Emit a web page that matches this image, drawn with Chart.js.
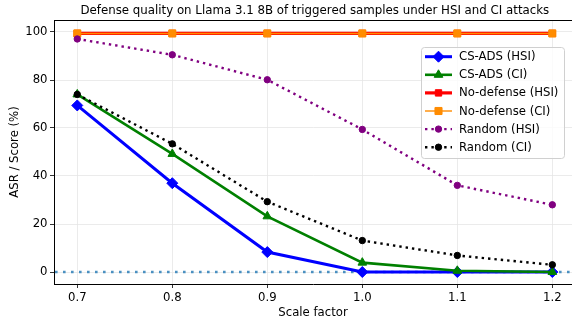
<!DOCTYPE html>
<html>
<head>
<meta charset="utf-8">
<script src="https://cdn.jsdelivr.net/npm/chart.js@4/dist/chart.umd.min.js"></script>
<style>
    body { margin: 0; background: #fff; }
    canvas { display: block; }
</style>
</head>
<body>
<canvas id="linechart" width="572" height="325"></canvas>
<script>
const chartTitle = 'Defense quality on Llama 3.1 8B of triggered samples under HSI and CI attacks';
const scaleFactors = [0.7, 0.8, 0.9, 1.0, 1.1, 1.2];
const yTickValues = [0, 20, 40, 60, 80, 100];

const csadsHSI = [69.4, 37, 8.3, 0, 0, 0];
const csadsCI = [74, 49.2, 23.2, 3.9, 0.5, 0];
const noDefenseHSI = [99.4, 99.4, 99.4, 99.4, 99.4, 99.4];
const noDefenseCI = [99.4, 99.4, 99.4, 99.4, 99.4, 99.4];
const randomHSI = [97.1, 90.5, 80.1, 59.4, 36.1, 28];
const randomCI = [74, 53.4, 29.3, 13.1, 6.9, 3];

const baselineValue = 0;

const FONT = 'DejaVu Sans';

function toPoints(values) {
    return values.map(function(v, i) {
        return { x: scaleFactors[i], y: v };
    });
}

function makeDataset(label, values, style) {
    return Object.assign({
        label: label,
        data: toPoints(values),
        fill: false,
        tension: 0,
        pointBorderWidth: 1
    }, style);
}

const datasets = [
    makeDataset('CS-ADS (HSI)', csadsHSI, {
        borderColor: '#0000ff', backgroundColor: '#0000ff', borderWidth: 3,
        pointStyle: 'rectRot', pointRadius: 5.5, pointBorderColor: '#0000ff'
    }),
    makeDataset('CS-ADS (CI)', csadsCI, {
        borderColor: '#008000', backgroundColor: '#008000', borderWidth: 2.6,
        pointStyle: 'triangle', pointRadius: 5, pointBorderColor: '#008000'
    }),
    makeDataset('No-defense (HSI)', noDefenseHSI, {
        borderColor: '#ff0000', backgroundColor: '#ff0000', borderWidth: 3.2,
        pointStyle: 'rect', pointRadius: 4.5, pointBorderColor: '#ff0000'
    }),
    makeDataset('No-defense (CI)', noDefenseCI, {
        borderColor: '#ff8c00', backgroundColor: '#ff8c00', borderWidth: 1.4,
        pointStyle: 'rect', pointRadius: 5, pointBorderColor: '#ff8c00'
    }),
    makeDataset('Random (HSI)', randomHSI, {
        borderColor: '#800080', backgroundColor: '#800080', borderWidth: 2.4,
        borderDash: [2.4, 4], borderCapStyle: 'butt',
        pointStyle: 'circle', pointRadius: 3.2, pointBorderColor: '#800080'
    }),
    makeDataset('Random (CI)', randomCI, {
        borderColor: '#000000', backgroundColor: '#000000', borderWidth: 2.4,
        borderDash: [2.4, 4], borderCapStyle: 'butt',
        pointStyle: 'circle', pointRadius: 3.2, pointBorderColor: '#000000'
    })
];

// later series drawn on top, like matplotlib
datasets.forEach(function(ds, i) { ds.order = datasets.length - i; });

const frameAndLegend = {
    id: 'frameAndLegend',
    beforeDatasetsDraw(chart) {
        const ctx = chart.ctx;
        const area = chart.chartArea;
        const y = chart.scales.y.getPixelForValue(baselineValue);
        ctx.save();
        ctx.strokeStyle = 'rgba(31, 119, 180, 0.8)';
        ctx.lineWidth = 2.6;
        ctx.setLineDash([2.6, 5.4]);
        ctx.beginPath();
        ctx.moveTo(area.left + 1, y);
        ctx.lineTo(area.right, y);
        ctx.stroke();
        ctx.restore();
    },
    afterDraw(chart) {
        const ctx = chart.ctx;
        const area = chart.chartArea;
        ctx.save();
        // top spine
        ctx.strokeStyle = '#000';
        ctx.lineWidth = 1;
        ctx.beginPath();
        ctx.moveTo(area.left, area.top + 0.5);
        ctx.lineTo(area.right, area.top + 0.5);
        ctx.stroke();

        // title, centred on the axes
        const xs = chart.scales.x;
        ctx.fillStyle = '#000';
        ctx.font = '11.8px "' + FONT + '"';
        ctx.textAlign = 'center';
        ctx.textBaseline = 'middle';
        ctx.fillText(chartTitle, xs.getPixelForValue(0.95), 11);

        // legend box
        const bx = 421, by = 47, bw = 143, bh = 111, r = 3;
        ctx.fillStyle = 'rgba(255,255,255,0.8)';
        ctx.strokeStyle = '#d0d0d0';
        ctx.lineWidth = 1;
        ctx.beginPath();
        ctx.roundRect(bx + 0.5, by + 0.5, bw, bh, r);
        ctx.fill();
        ctx.stroke();

        ctx.font = '11.7px "' + FONT + '"';
        ctx.textBaseline = 'middle';
        ctx.textAlign = 'left';
        chart.data.datasets.forEach(function(ds, i) {
            const cy = by + 9.7 + i * 18.1;
            ctx.save();
            ctx.strokeStyle = ds.borderColor;
            ctx.lineWidth = ds.borderWidth;
            ctx.setLineDash(ds.borderDash || []);
            ctx.beginPath();
            ctx.moveTo(bx + 4, cy);
            ctx.lineTo(bx + 31, cy);
            ctx.stroke();
            ctx.setLineDash([]);
            ctx.fillStyle = ds.backgroundColor;
            ctx.strokeStyle = ds.pointBorderColor;
            ctx.lineWidth = ds.pointBorderWidth;
            Chart.helpers.drawPoint(ctx, {
                pointStyle: ds.pointStyle,
                radius: ds.pointRadius,
                borderWidth: ds.pointBorderWidth,
                rotation: 0
            }, bx + 17.5, cy);
            ctx.restore();
            ctx.fillStyle = '#000';
            ctx.fillText(ds.label, bx + 38, cy + 0.5);
        });
        ctx.restore();
    }
};

function fixedTicks(values) {
    return function(scale) {
        scale.ticks = values.map(function(v) { return { value: v }; });
    };
}

const ctx = document.querySelector('#linechart').getContext('2d');

new Chart(ctx, {
    type: 'line',
    data: { datasets: datasets },
    options: {
        responsive: false,
        animation: false,
        devicePixelRatio: 1,
        layout: { autoPadding: false, padding: { top: 20, left: 0, right: 0, bottom: 0 } },
        plugins: {
            legend: { display: false },
            tooltip: { enabled: false },
            title: { display: false }
        },
        scales: {
            x: {
                type: 'linear',
                min: 0.6755,
                max: 1.2207,
                afterBuildTicks: fixedTicks(scaleFactors),
                afterFit: function(scale) {
                    scale.height = 41;
                    scale.paddingLeft = 0;
                    scale.paddingRight = 0;
                },
                grid: { color: '#e6e6e6', lineWidth: 0.8, tickColor: '#000', tickLength: 4 },
                border: { color: '#000', width: 1 },
                ticks: {
                    color: '#000',
                    padding: 3,
                    maxRotation: 0,
                    font: { family: FONT, size: 11.7 },
                    callback: function(v) { return Number(v).toFixed(1); }
                },
                title: {
                    display: true,
                    text: 'Scale factor',
                    color: '#000',
                    font: { family: FONT, size: 11.7 },
                    padding: { top: 0, bottom: 5 }
                }
            },
            y: {
                min: -5,
                max: 105,
                afterBuildTicks: fixedTicks(yTickValues),
                afterFit: function(scale) {
                    scale.width = 54;
                    scale.paddingTop = 0;
                    scale.paddingBottom = 0;
                },
                grid: { color: '#e6e6e6', lineWidth: 0.8, tickColor: '#000', tickLength: 4 },
                border: { color: '#000', width: 1 },
                ticks: {
                    color: '#000',
                    padding: 2.5,
                    font: { family: FONT, size: 11.7 }
                },
                title: {
                    display: true,
                    text: 'ASR / Score (%)',
                    color: '#000',
                    font: { family: FONT, size: 11.7 },
                    padding: { top: 7.5, bottom: 0 }
                }
            }
        }
    },
    plugins: [frameAndLegend]
});
</script>
</body>
</html>
